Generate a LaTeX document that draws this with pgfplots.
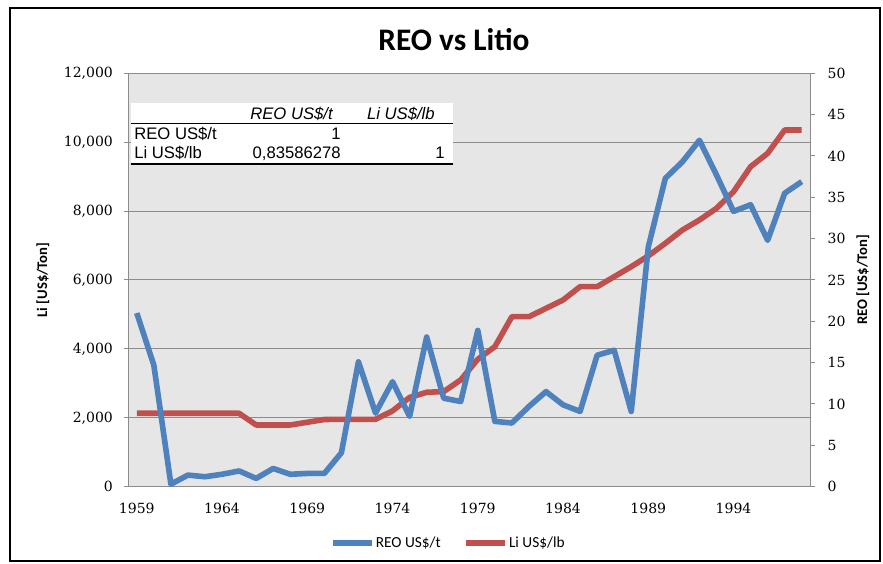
\documentclass[border=0pt]{standalone}
\usepackage{fontspec}
\setmainfont{Carlito}
\newfontfamily\tickfont{DejaVu Serif}
\newfontfamily\arialfont{Liberation Sans}
\usepackage{pgfplots}
\pgfplotsset{compat=1.18}
\definecolor{reoblue}{HTML}{4F81BD}
\definecolor{lired}{HTML}{C0504D}
\definecolor{plotbg}{HTML}{E6E6E6}
\definecolor{gridgray}{HTML}{8C8C8C}

\pgfplotstableread{
year li
1959 2130
1960 2130
1961 2130
1962 2130
1963 2130
1964 2130
1965 2130
1966 1791
1967 1791
1968 1791
1969 1870
1970 1950
1971 1955
1972 1955
1973 1955
1974 2200
1975 2590
1976 2740
1977 2760
1978 3100
1979 3700
1980 4064
1981 4935
1982 4935
1983 5177
1984 5419
1985 5806
1986 5806
1987 6096
1988 6386
1989 6700
1990 7065
1991 7451
1992 7742
1993 8081
1994 8563
1995 9289
1996 9678
1997 10354
1998 10354
}\litable

\pgfplotstableread{
year reo
1959 21.0
1960 14.7
1961 0.3
1962 1.4
1963 1.2
1964 1.5
1965 1.9
1966 1.0
1967 2.2
1968 1.5
1969 1.6
1970 1.6
1971 4.1
1972 15.1
1973 8.9
1974 12.7
1975 8.5
1976 18.1
1977 10.7
1978 10.3
1979 18.9
1980 7.9
1981 7.7
1982 9.7
1983 11.5
1984 9.9
1985 9.1
1986 15.9
1987 16.5
1988 9.1
1989 29.0
1990 37.3
1991 39.3
1992 41.9
1993 37.7
1994 33.3
1995 34.1
1996 29.8
1997 35.5
1998 36.9
}\reotable

\pgfplotsset{
  common/.style={
    at={(96.2pt,58pt)}, anchor=south west,
    scale only axis, width=511.5pt, height=310pt,
    xmin=1958.5, xmax=1998.5, ymin=0,
    tick align=outside, major tick length=3.5pt,
    tick style={gridgray, line width=0.75pt},
    scaled y ticks=false,
    /pgf/number format/assume math mode=true,
    tick label style={font=\tickfont\fontsize{10.5}{12}\selectfont, text=black},
    ylabel style={font=\bfseries\fontsize{11}{13}\selectfont, anchor=center},
  },
}

\begin{document}
\begin{tikzpicture}
\begin{scope}[shift={(0pt,423pt)}, x=0.75pt, y=-0.75pt]
  \useasboundingbox (0,0) rectangle (883,564);
  \fill[white] (0,0) rectangle (883,564);
  \draw[black, line width=1.4pt] (10,8) rectangle (880,561);
  \node[font=\bfseries\fontsize{23.5}{27}\selectfont] at (454,40) {REO vs Litio};
\end{scope}

\begin{axis}[common,
  ymax=12000,
  xtick={1959,1964,...,1994},
  ytick={0,2000,...,12000},
  axis background/.style={fill=plotbg},
  axis line style={draw=gridgray, line width=0.75pt},
  ymajorgrids, grid style={draw=gridgray, line width=0.75pt},
  ytick pos=left, xtick pos=bottom,
  xtick style={draw=none},
  xticklabel style={/pgf/number format/1000 sep={}, yshift=-5pt},
  yticklabel style={/pgf/number format/1000 sep={,}, xshift=-4.5pt},
  ylabel={Li [US\$/Ton]},
  ylabel style={at={(axis description cs:-0.1254,0.5)}},
]
\addplot[lired, line width=4.2pt, line join=round] table[x=year, y=li] {\litable};
\end{axis}

\begin{axis}[common,
  ymax=50,
  axis x line=none,
  axis y line*=right,
  axis line style={draw=gridgray, line width=0.75pt},
  ytick={0,5,...,50},
  yticklabel style={xshift=6pt},
  ylabel={REO [US\$/Ton]},
  ylabel style={at={(axis description cs:1.077,0.5)}},
  legend style={at={(0.469,-0.136)}, anchor=center, draw=none, fill=none,
    legend columns=2, font=\fontsize{11.5}{13}\selectfont,
    /tikz/every even column/.append style={column sep=16pt},
    nodes={inner xsep=1pt}},
  legend cell align=left,
  legend image code/.code={\draw[#1] (0pt,0pt) -- (29pt,0pt);},
]
\addplot[reoblue, line width=4.2pt, line join=round] table[x=year, y=reo] {\reotable};
\addlegendentry{REO US\$/t}
\addlegendimage{lired, line width=4.2pt}
\addlegendentry{Li US\$/lb}
\end{axis}

\begin{scope}[shift={(0pt,423pt)}, x=0.75pt, y=-0.75pt,
  every node/.style={font=\arialfont\fontsize{12.5}{14}\selectfont, inner sep=0pt}]
  \fill[white] (131,103) rectangle (453,164);
  \draw[black, line width=0.6pt] (131,123.5) -- (453,123.5);
  \draw[black, line width=1.5pt] (131,164) -- (453,164);
  \node[anchor=base east, font=\arialfont\itshape\fontsize{12.5}{14}\selectfont] at (333,120) {REO US\$/t};
  \node[anchor=base east, font=\arialfont\itshape\fontsize{12.5}{14}\selectfont] at (435,120) {Li US\$/lb};
  \node[anchor=base west] at (134,140) {REO US\$/t};
  \node[anchor=base east] at (341,140) {1};
  \node[anchor=base west] at (134,159) {Li US\$/lb};
  \node[anchor=base east] at (341,159) {0,83586278};
  \node[anchor=base east] at (445,159) {1};
\end{scope}
\end{tikzpicture}
\end{document}
